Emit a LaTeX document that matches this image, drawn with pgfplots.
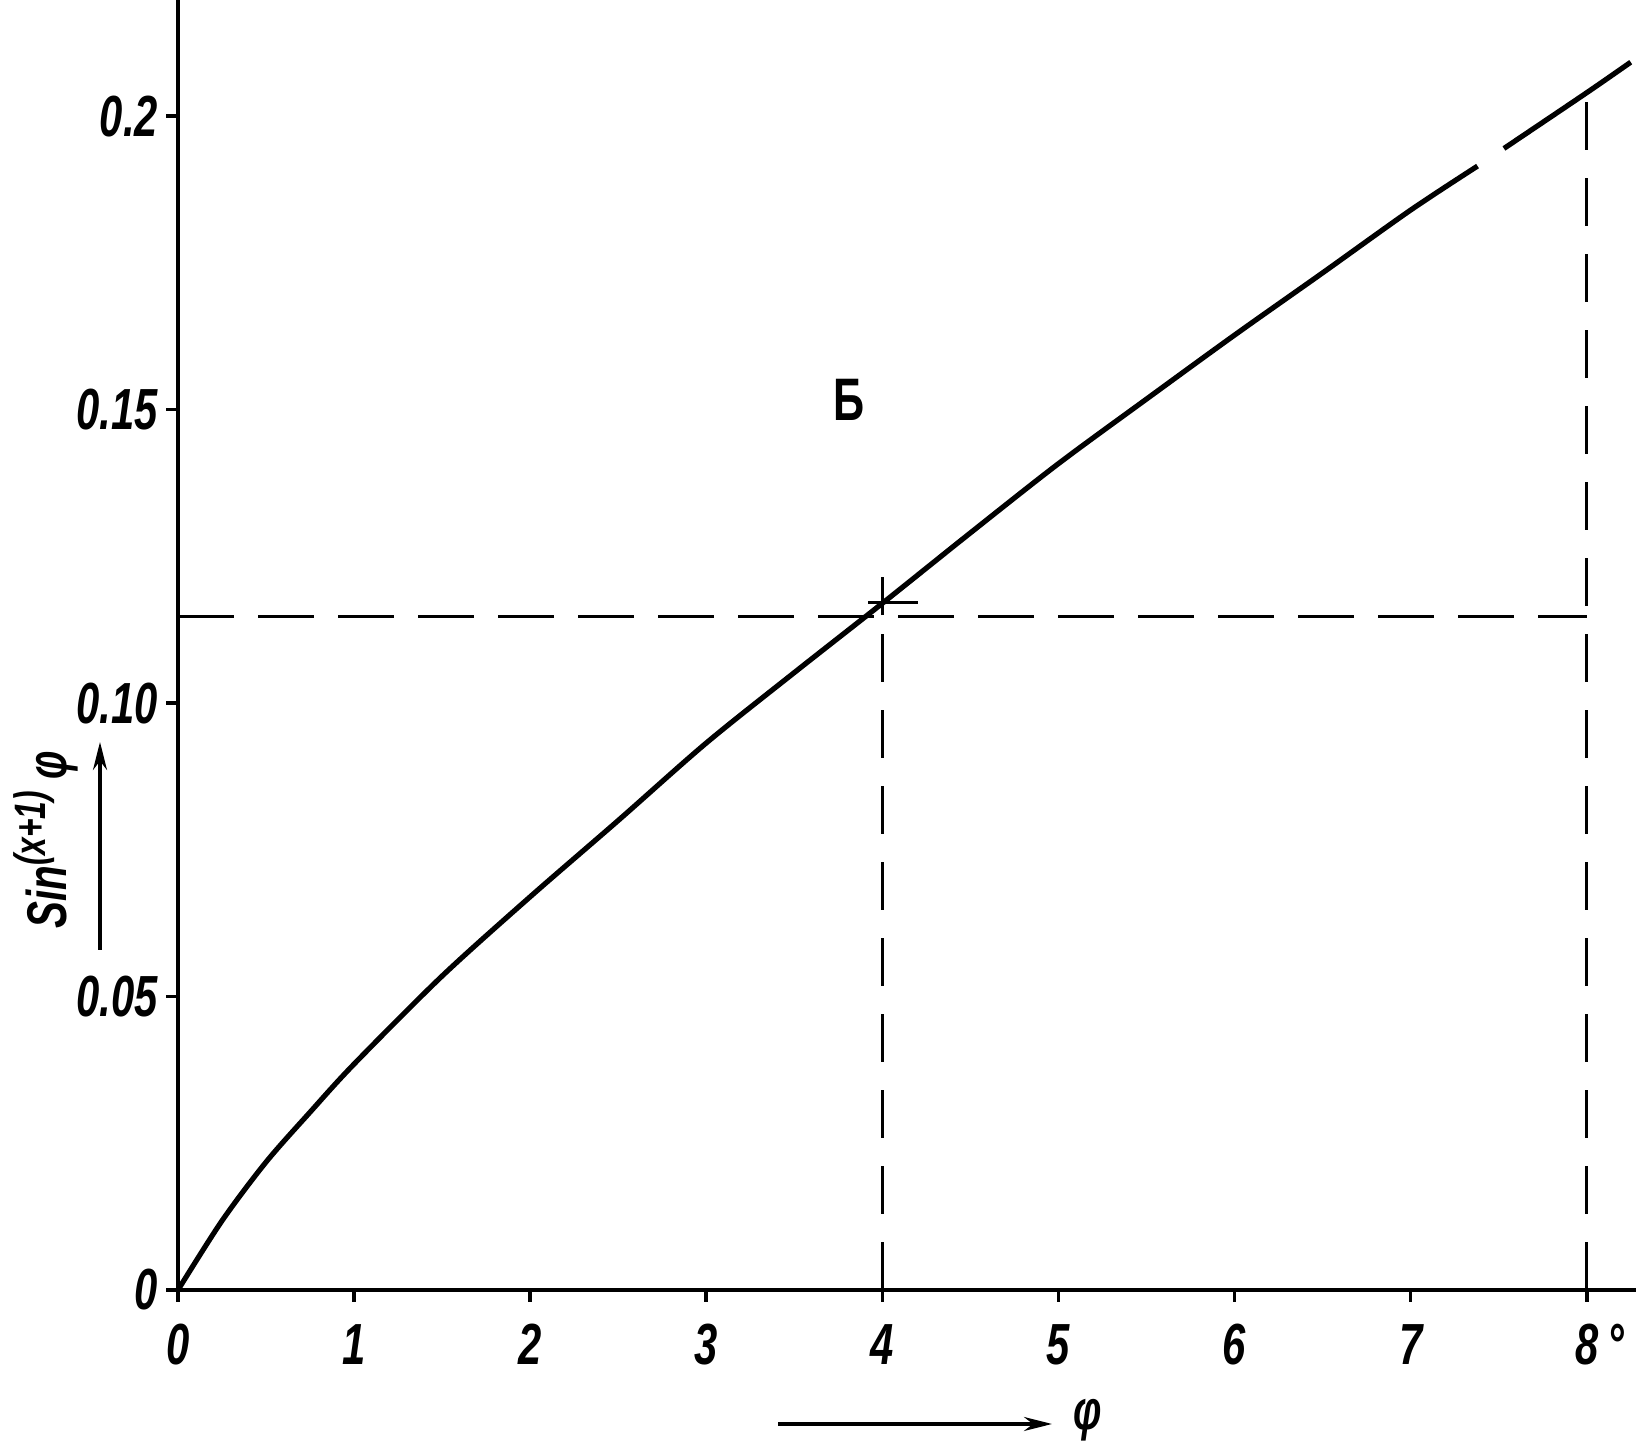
\documentclass[border=0pt]{standalone}
\usepackage{fontspec}
\setmainfont{Liberation Sans}[FakeStretch=0.72]
\usepackage{pgfplots}
\pgfplotsset{compat=1.18}
\usetikzlibrary{arrows.meta}
\begin{document}
\begin{tikzpicture}
\begin{axis}[
  name=ax,
  scale only axis,
  width=364.5pt, height=322.5pt,
  xmin=0, xmax=8.28, ymin=0, ymax=0.2198,
  axis lines=left,
  axis line style={-, line width=1pt},
  clip=false,
  tick align=outside,
  major tick length=3pt,
  tick style={line width=0.9pt, black},
  xtick={0,1,2,3,4,5,6,7,8},
  xticklabels={0,1,2,3,4,5,6,7,8\rlap{\,°}},
  ytick={0,0.05,0.1,0.15,0.2},
  yticklabels={0,0.05,0.10,0.15,0.2},
  /pgf/number format/assume math mode=true,
  ticklabel style={font=\fontsize{14.5}{16}\selectfont\bfseries\itshape},
  xticklabel style={yshift=-2pt},
  yticklabel style={xshift=1.5pt},
]
% main curve (two pieces, gap in the original drawing)
\addplot[black, line width=1.3pt, smooth, tension=0.5] coordinates {
 (0,0) (0.25,0.0118) (0.5,0.0218) (0.75,0.0303) (1.0,0.0385)
 (1.5,0.0535) (2.0,0.0670) (2.5,0.0800) (3.0,0.0932) (3.5,0.1052)
 (4.0,0.1170) (4.5,0.1290) (5.0,0.1408) (5.5,0.1518) (6.0,0.1627)
 (6.5,0.1733) (7.0,0.1840) (7.38,0.1915)
};
\addplot[black, line width=1.3pt, smooth, tension=0.5] coordinates {
 (7.53,0.1945) (8.0,0.2040) (8.25,0.2092)
};
% dashed construction lines
\addplot[black, line width=0.8pt, dash pattern=on 14pt off 6pt] coordinates {(0,0.1147) (8,0.1147)};
\addplot[black, line width=0.8pt, dash pattern=on 12pt off 7pt] coordinates {(4,0) (4,0.121)};
\addplot[black, line width=0.8pt, dash pattern=on 12pt off 7pt] coordinates {(8,0) (8,0.2040)};
% small cross mark
\addplot[black, line width=0.7pt] coordinates {(3.92,0.1172) (4.2,0.1172)};
\addplot[black, line width=0.7pt] coordinates {(4,0.1150) (4,0.1215)};
\node[font=\fontsize{15}{17}\selectfont\bfseries] at (axis cs:3.81,0.1516) {Б};
\end{axis}
% y label with arrow
\draw[line width=0.9pt, -{Stealth[length=7pt,width=3.5pt]}]
  ([shift={(-19.5pt,85pt)}]ax.south west) -- ([shift={(-19.5pt,137pt)}]ax.south west);
\node[rotate=90, font=\fontsize{14}{16}\selectfont\bfseries\itshape]
  at ([shift={(-33pt,112.5pt)}]ax.south west) {Sin$^{\mbox{\fontsize{11}{13}\selectfont\bfseries\itshape (x+1)}}$\,φ};
% x label with arrow
\draw[line width=0.9pt, -{Stealth[length=7pt,width=3.5pt]}]
  ([shift={(150pt,-33.5pt)}]ax.south west) -- ([shift={(218.5pt,-33.5pt)}]ax.south west);
\node[font=\fontsize{14}{16}\selectfont\bfseries\itshape]
  at ([shift={(227.5pt,-32.5pt)}]ax.south west) {φ};
\pgfresetboundingbox
\path ([shift={(-44.5pt,-38pt)}]ax.south west) rectangle (ax.north east);
\end{tikzpicture}
\end{document}
